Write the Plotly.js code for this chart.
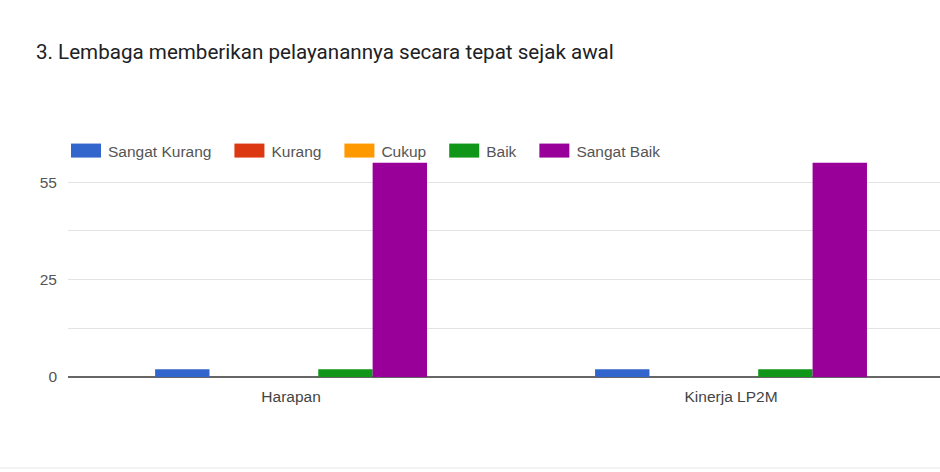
<!DOCTYPE html>
<html>
<head>
<meta charset="utf-8">
<script src="https://cdn.plot.ly/plotly-3.0.1.min.js"></script>
<style>
  html, body { margin: 0; padding: 0; background: #ffffff; }
  #chart { width: 940px; height: 472px; }
</style>
</head>
<body>
<div id="chart"></div>
<script>
const categories = ["Harapan", "Kinerja LP2M"];
const seriesNames = ["Sangat Kurang", "Kurang", "Cukup", "Baik", "Sangat Baik"];
const sangatKurang = [2, 2];
const kurang = [0, 0];
const cukup = [0, 0];
const baik = [2, 2];
const sangatBaik = [55, 55];
const tickValues = [0, 12.5, 25, 37.5, 50, 62.5];
const tickLabels = ["0", "", "25", "", "55", ""];

const seriesValues = [sangatKurang, kurang, cukup, baik, sangatBaik];
const colors = ["#3366cc", "#dc3912", "#ff9900", "#109618", "#990099"];
const labelFont = "Arial, 'Liberation Sans', sans-serif";

const traces = seriesNames.map((name, i) => ({
  type: "bar",
  name: name,
  x: categories,
  y: seriesValues[i],
  marker: { color: colors[i], line: { width: 0 } },
  hoverinfo: "skip"
}));

const layout = {
  width: 940,
  height: 472,
  paper_bgcolor: "#ffffff",
  plot_bgcolor: "#ffffff",
  font: { family: labelFont, color: "#555555", size: 15 },
  title: {
    text: "3. Lembaga memberikan pelayanannya secara tepat sejak awal",
    font: { family: "Roboto, Arial, sans-serif", size: 20.6, color: "#202124" },
    x: 36 / 940, xanchor: "left", xref: "container",
    y: 1 - 52 / 472, yanchor: "middle", yref: "container"
  },
  margin: { l: 68, r: 0, t: 133, b: 95, pad: 0 },
  barmode: "group",
  bargap: 0.382,
  bargroupgap: 0,
  showlegend: true,
  legend: {
    orientation: "h",
    x: 0, xanchor: "left", xref: "paper",
    y: 1 - 18 / 244, yanchor: "middle", yref: "paper",
    bgcolor: "rgba(0,0,0,0)",
    borderwidth: 0,
    font: { family: labelFont, size: 15.5, color: "#555555" },
    itemwidth: 30,
    traceorder: "normal"
  },
  xaxis: {
    type: "category",
    range: [-0.507, 1.475],
    showgrid: false,
    zeroline: false,
    showline: false,
    ticks: "",
    ticklabelstandoff: 8,
    tickfont: { family: labelFont, size: 15.5, color: "#444444" },
    fixedrange: true
  },
  yaxis: {
    range: [0, 62.65],
    tickmode: "array",
    tickvals: tickValues,
    ticktext: tickLabels,
    showgrid: true,
    gridcolor: "#e3e3e3",
    gridwidth: 1,
    zeroline: true,
    zerolinecolor: "#666666",
    zerolinewidth: 1.5,
    showline: false,
    ticks: "",
    ticklabelstandoff: 10,
    tickfont: { family: labelFont, size: 15.5, color: "#555555" },
    fixedrange: true
  },
  shapes: [
    { type: "line", xref: "paper", yref: "paper", x0: -68 / 872, x1: 1, y0: -91 / 244, y1: -91 / 244,
      line: { color: "#e8e8e8", width: 1 } }
  ]
};

Plotly.newPlot("chart", traces, layout, { staticPlot: true, displayModeBar: false }).then(gd => {
  // widen legend swatches into Google-Charts-style rectangles and space entries
  const scrollbox = gd.querySelector(".legend .scrollbox");
  if (scrollbox) scrollbox.removeAttribute("clip-path");
  const items = gd.querySelectorAll(".legend .traces");
  let x = 0;
  items.forEach(item => {
    const tr = item.getAttribute("transform") || "";
    const m = tr.match(/translate\(([-\d.]+)[ ,]*([-\d.]+)?\)/);
    const y = m && m[2] ? parseFloat(m[2]) : 0;
    item.setAttribute("transform", "translate(" + x + "," + y + ")");
    item.querySelectorAll(".legendpoints path").forEach(p => {
      p.setAttribute("d", "M-17,-7H13V7H-17Z");
    });
    const txt = item.querySelector("text.legendtext");
    const w = txt ? txt.getComputedTextLength() : 0;
    x += 40 + w + 20;
  });
});
</script>
</body>
</html>
